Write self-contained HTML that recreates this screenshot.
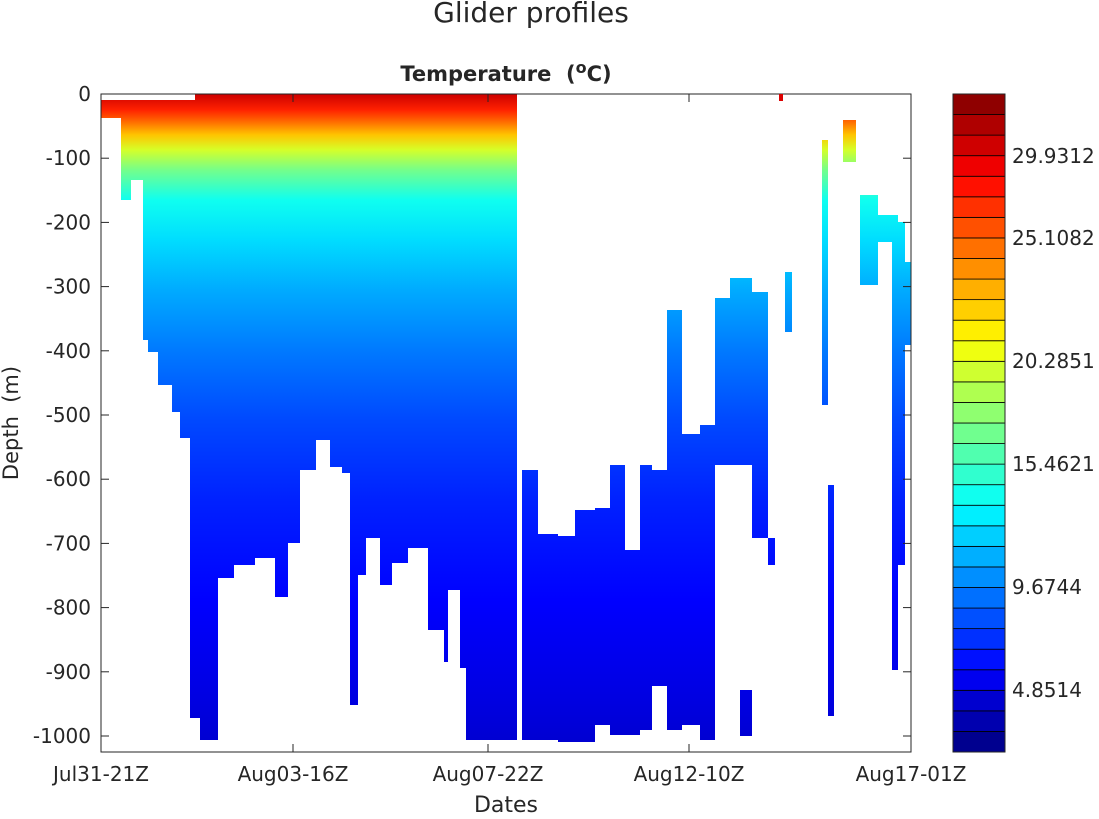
<!DOCTYPE html>
<html><head><meta charset="utf-8">
<style>
body{margin:0;background:#fff;}
svg text{font-family:"DejaVu Sans","Liberation Sans",sans-serif;fill:#262626;white-space:pre;}
</style></head>
<body>
<svg id="s" width="1099" height="814" xmlns="http://www.w3.org/2000/svg">
<defs>
<linearGradient id="g" x1="0" y1="94" x2="0" y2="752" gradientUnits="userSpaceOnUse">
<stop offset="0" stop-color="rgb(204,0,0)"/>
<stop offset="0.024" stop-color="rgb(255,33,0)"/>
<stop offset="0.040" stop-color="rgb(255,98,0)"/>
<stop offset="0.062" stop-color="rgb(255,196,0)"/>
<stop offset="0.085" stop-color="rgb(213,255,41)"/>
<stop offset="0.116" stop-color="rgb(115,255,140)"/>
<stop offset="0.161" stop-color="rgb(15,255,240)"/>
<stop offset="0.222" stop-color="rgb(0,221,255)"/>
<stop offset="0.298" stop-color="rgb(0,171,255)"/>
<stop offset="0.389" stop-color="rgb(0,122,255)"/>
<stop offset="0.495" stop-color="rgb(0,73,255)"/>
<stop offset="0.617" stop-color="rgb(0,33,255)"/>
<stop offset="0.769" stop-color="rgb(0,0,255)"/>
<stop offset="0.921" stop-color="rgb(0,0,225)"/>
<stop offset="1" stop-color="rgb(0,0,206)"/>
</linearGradient>
</defs>
<rect x="101" y="94" width="810" height="658" fill="url(#g)"/>
<g id="w" fill="#fff"></g>
<g id="cb"></g>
<rect x="101" y="94" width="810" height="658" fill="none" stroke="#262626" stroke-width="1"/>
<g id="ax" stroke="#262626" stroke-width="1"></g>
<g id="lab" font-size="20"></g>
<text x="531" y="22" font-size="28" text-anchor="middle" fill="#000">Glider profiles</text>
<text x="506" y="81" font-size="21" font-weight="bold" text-anchor="middle" fill="#000">Temperature  (<tspan dy="-8" font-size="16">o</tspan><tspan dy="8">C)</tspan></text>
<text x="506" y="812" font-size="22" text-anchor="middle">Dates</text>
<text transform="translate(18,423) rotate(-90)" font-size="21" text-anchor="middle">Depth  (m)</text>
</svg>
<script>
var NS="http://www.w3.org/2000/svg";
function el(p,t,a){var e=document.createElementNS(NS,t);for(var k in a)e.setAttribute(k,a[k]);p.appendChild(e);return e;}
var W=document.getElementById("w");
var cols=[
[101,121,[[118,752]]],[121,131,[[200,752]]],[131,143,[[180,752]]],[143,148,[[340,752]]],[148,158,[[352,752]]],
[158,172,[[385,752]]],[172,180,[[412,752]]],[180,190,[[438,752]]],[190,200,[[718,752]]],[200,218,[[740,752]]],
[218,234,[[578,752]]],[234,255,[[565,752]]],[255,275,[[558,752]]],[275,288,[[597,752]]],[288,300,[[543,752]]],
[300,316,[[470,752]]],[316,330,[[440,752]]],[330,342,[[467,752]]],[342,350,[[473,752]]],[350,358,[[705,752]]],
[358,366,[[575,752]]],[366,380,[[538,752]]],[380,392,[[585,752]]],[392,408,[[563,752]]],[408,428,[[548,752]]],
[428,444,[[630,752]]],[444,448,[[662,752]]],[448,460,[[590,752]]],[460,466,[[668,752]]],[466,517,[[740,752]]],
[101,195,[[94,100]]],
[517,522,[[94,752]]],[522,538,[[94,470],[740,752]]],[538,558,[[94,534],[740,752]]],[558,575,[[94,536],[742,752]]],
[575,595,[[94,510],[742,752]]],[595,610,[[94,508],[725,752]]],[610,625,[[94,465],[735,752]]],[625,640,[[94,550],[735,752]]],
[640,652,[[94,465],[730,752]]],[652,667,[[94,470],[686,752]]],[667,682,[[94,310],[730,752]]],[682,700,[[94,434],[725,752]]],
[700,715,[[94,425],[740,752]]],[715,730,[[94,298],[465,752]]],[730,740,[[94,278],[465,752]]],[740,752,[[94,278],[465,690],[736,752]]],
[752,768,[[94,292],[538,752]]],[768,775,[[94,538],[565,752]]],[775,785,[[94,752]]],[785,792,[[94,272],[332,752]]],
[792,822,[[94,752]]],[822,828,[[94,140],[405,752]]],[828,834,[[94,485],[716,752]]],[834,843,[[94,752]]],
[843,856,[[94,120],[162,752]]],[856,860,[[94,752]]],[860,878,[[94,195],[285,752]]],[878,892,[[94,215],[242,752]]],
[892,898,[[94,215],[670,752]]],[898,905,[[94,222],[565,752]]],[905,911,[[94,262],[345,752]]]
];
cols.forEach(function(c){c[2].forEach(function(s){el(W,"rect",{x:c[0],y:s[0],width:c[1]-c[0],height:s[1]-s[0]});});});
el(document.getElementById("s"),"rect",{x:779,y:94,width:4,height:7,fill:"rgb(220,0,0)"});
function jet(t){function f(x){return Math.max(0,Math.min(1,x));}
var r=f(Math.min(4*t-1.5,-4*t+4.5)),g=f(Math.min(4*t-0.5,-4*t+3.5)),b=f(Math.min(4*t+0.5,-4*t+2.5));
return "rgb("+Math.round(r*255)+","+Math.round(g*255)+","+Math.round(b*255)+")";}
var CB=document.getElementById("cb");var n=32,h=658/n;
for(var i=0;i<n;i++){el(CB,"rect",{x:953,y:752-(i+1)*h,width:52,height:h,fill:jet((i+0.5)/n),stroke:"#000","stroke-width":0.8});}
el(CB,"rect",{x:953,y:94,width:52,height:658,fill:"none",stroke:"#262626"});
var AX=document.getElementById("ax"),L=document.getElementById("lab");
for(var d=0;d<=1000;d+=100){var y=94+0.642*d;
el(AX,"line",{x1:101,y1:y,x2:109,y2:y});el(AX,"line",{x1:911,y1:y,x2:903,y2:y});
var t=el(L,"text",{x:91,y:y+7,"text-anchor":"end"});t.textContent=d==0?"0":"-"+d;}
[[101,"Jul31-21Z"],[293,"Aug03-16Z"],[488,"Aug07-22Z"],[689,"Aug12-10Z"],[911,"Aug17-01Z"]].forEach(function(a){
el(AX,"line",{x1:a[0],y1:752,x2:a[0],y2:744});el(AX,"line",{x1:a[0],y1:94,x2:a[0],y2:102});
var t=el(L,"text",{x:a[0],y:781,"text-anchor":"middle"});t.textContent=a[1];});
[[156,"29.9312"],[238,"25.1082"],[361,"20.2851"],[464,"15.4621"],[587,"9.6744"],[690,"4.8514"]].forEach(function(a){
var t=el(L,"text",{x:1012,y:a[0]+7});t.textContent=a[1];});
</script>
</body></html>
